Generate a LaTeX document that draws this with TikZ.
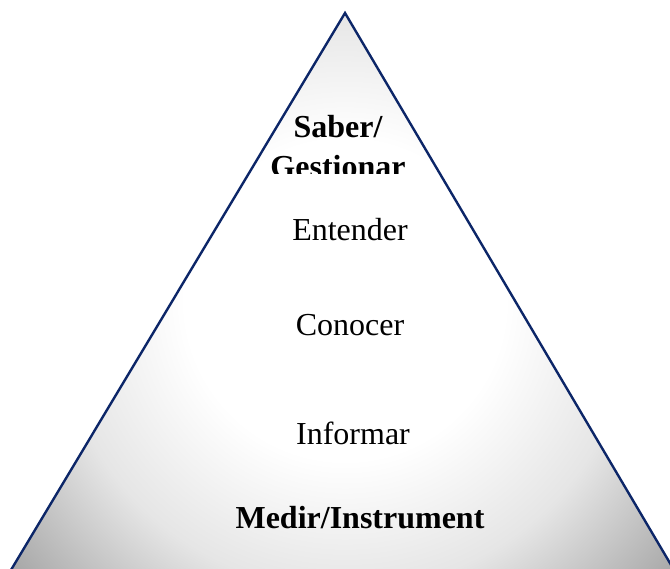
\documentclass[tikz,border=0pt]{standalone}
\usepackage{fontspec}
\setmainfont{Liberation Serif}
\definecolor{edgeblue}{RGB}{12,38,104}
\definecolor{ggA}{gray}{0.90}
\definecolor{ggB}{gray}{0.66}
\pgfdeclareradialshading{pyrshade}{\pgfpoint{0bp}{0bp}}{%
  color(0bp)=(white); color(8bp)=(white); color(14.5bp)=(ggA);
  color(21.25bp)=(ggB); color(25bp)=(ggB); color(50bp)=(ggB)}
\tikzset{
  lvl/.style={font=\fontsize{32}{38}\selectfont, anchor=base, inner sep=0pt},
  lvlbold/.style={lvl, font=\fontsize{32}{38}\selectfont\bfseries},
}
\begin{document}
\begin{tikzpicture}[x=1pt,y=-1pt]
\useasboundingbox (0,0) rectangle (670,569);
\coordinate (apex) at (345,13);
\coordinate (bl) at (8,575);
\coordinate (br) at (677,575);
\begin{scope}
  \clip (apex) -- (bl) -- (br) -- cycle;
  \fill[shading=pyrshade] (345,300) circle (500);
\end{scope}
\draw[edgeblue, line width=2.4pt, line join=miter] (bl) -- (apex) -- (br);
\begin{scope}
  \clip (240,100) rectangle (460,174);
  \node[lvlbold] (saber) at (338,138) {Saber/};
  \node[lvlbold] (gest) at (338,178) {Gestionar};
\end{scope}
\node[lvl] (entender) at (350,241) {Entender};
\node[lvl] (conocer) at (350,336) {Conocer};
\node[lvl] (informar) at (353,445) {Informar};
\node[lvlbold] (medir) at (360,529) {Medir/Instrument};
\end{tikzpicture}
\end{document}
